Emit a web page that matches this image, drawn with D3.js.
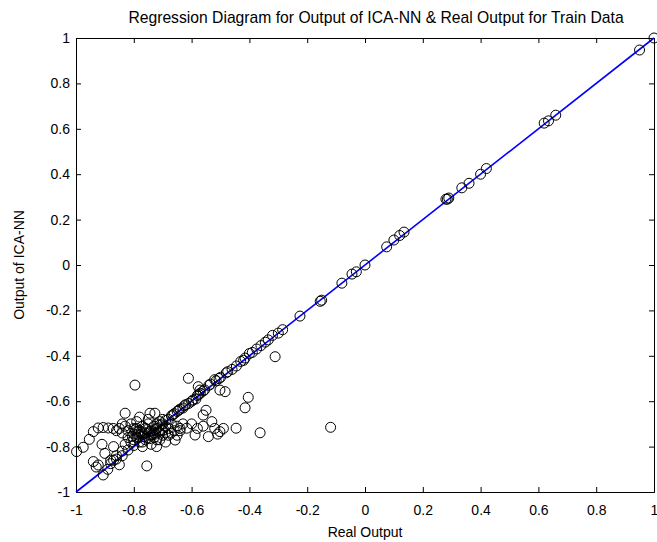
<!DOCTYPE html>
<html>
<head>
<meta charset="utf-8">
<script src="https://cdn.jsdelivr.net/npm/d3@7"></script>
<style>
body { margin: 0; background: #fff; }
text { font-family: "Liberation Sans", Arial, sans-serif; fill: #000; }
.axis path, .axis line { stroke: #000; }
</style>
</head>
<body>
<script>
// Data (Real Output vs Output of ICA-NN)
var realOutput = [
  1.00, 0.95, 0.66, 0.635, 0.62, 0.42, 0.40, 0.36, 0.335, 0.29, 0.285, 0.28,
  0.135, 0.12, 0.10, 0.075, 0.00, -0.03, -0.045, -0.08, -0.15, -0.155, -0.225,
  -0.285, -0.30, -0.32, -0.335, -0.345, -0.36, -0.375, -0.39, -0.40, -0.415,
  -0.42, -0.43, -0.445, -0.46, -0.48, -0.50, -0.515, -0.52, -0.54, -0.56, -0.57,
  -0.58, -0.585, -0.60, -0.61, -0.62, -0.63, -0.64, -0.65, -0.66, -0.67, -0.68,
  -0.69, -0.70, -0.71,
  -0.311, -0.119, -0.404, -0.415, -0.446, -0.363, -0.484, -0.577, -0.571, -0.502,
  -0.611, -0.796, -0.755, -0.998, -0.975, -0.954, -0.94, -0.923, -0.906, -0.888,
  -0.871, -0.83, -0.94, -0.923, -0.906, -0.89, -0.91, -0.90, -0.88, -0.87, -0.86,
  -0.85, -0.84, -0.744, -0.727, -0.657, -0.721, -0.56, -0.55, -0.53, -0.502,
  -0.542, -0.588, -0.617, -0.60, -0.58, -0.56, -0.52, -0.49, -0.51, -0.64, -0.63,
  -0.85, -0.84, -0.83, -0.82, -0.82, -0.81, -0.80, -0.80, -0.79, -0.79, -0.78,
  -0.78, -0.77, -0.77, -0.76, -0.76, -0.75, -0.75, -0.74, -0.74, -0.73, -0.73,
  -0.72, -0.72, -0.71, -0.71, -0.70, -0.70, -0.69, -0.69, -0.68, -0.67, -0.67,
  -0.66, -0.65, -0.65, -0.64, -0.81, -0.83, -0.77, -0.74, -0.75, -0.78, -0.70,
  -0.72, -0.76, -0.79, -0.84, -0.86, -0.80, -0.73, -0.68, -0.71, -0.69,
  -0.88, -0.86, -0.84, -0.82, -0.80, -0.78, -0.93, -0.87,
  -0.775, -0.765, -0.755, -0.745, -0.735, -0.725, -0.785, -0.795, -0.805, -0.715,
  -0.705, -0.765, -0.745, -0.725, -0.785, -0.595, -0.575, -0.555, -0.535, -0.505,
  -0.475, -0.625, -0.645, -0.665
];
var icaOutput = [
  1.00, 0.947, 0.66, 0.635, 0.625, 0.425, 0.40, 0.36, 0.34, 0.295, 0.29, 0.29,
  0.145, 0.13, 0.11, 0.08, 0.00, -0.03, -0.04, -0.08, -0.155, -0.16, -0.225,
  -0.285, -0.30, -0.31, -0.33, -0.34, -0.355, -0.37, -0.385, -0.39, -0.41,
  -0.42, -0.425, -0.445, -0.46, -0.475, -0.495, -0.51, -0.505, -0.53, -0.555, -0.565,
  -0.575, -0.59, -0.60, -0.61, -0.615, -0.63, -0.635, -0.645, -0.655, -0.665, -0.68,
  -0.685, -0.70, -0.705,
  -0.404, -0.715, -0.583, -0.629, -0.719, -0.739, -0.558, -0.536, -0.551, -0.551,
  -0.499, -0.529, -0.885, -0.822, -0.803, -0.768, -0.734, -0.718, -0.716, -0.718,
  -0.72, -0.653, -0.866, -0.881, -0.925, -0.90, -0.79, -0.83, -0.86, -0.80, -0.84,
  -0.88, -0.82, -0.653, -0.653, -0.771, -0.80, -0.661, -0.64, -0.69, -0.734,
  -0.756, -0.749, -0.719, -0.70, -0.72, -0.71, -0.72, -0.72, -0.745, -0.73, -0.70,
  -0.72, -0.74, -0.71, -0.76, -0.73, -0.70, -0.745, -0.77, -0.72, -0.69, -0.75,
  -0.73, -0.71, -0.78, -0.74, -0.72, -0.70, -0.76, -0.73, -0.75, -0.71, -0.74,
  -0.72, -0.77, -0.74, -0.69, -0.73, -0.75, -0.71, -0.74, -0.72, -0.74, -0.70,
  -0.73, -0.71, -0.75, -0.72, -0.78, -0.79, -0.80, -0.79, -0.68, -0.67, -0.68,
  -0.70, -0.77, -0.76, -0.70, -0.73, -0.72, -0.76, -0.75, -0.77, -0.78,
  -0.875, -0.855, -0.84, -0.815, -0.795, -0.78, -0.89, -0.86,
  -0.735, -0.745, -0.725, -0.735, -0.745, -0.725, -0.745, -0.725, -0.755, -0.735,
  -0.725, -0.755, -0.765, -0.745, -0.735, -0.595, -0.57, -0.55, -0.525, -0.50,
  -0.47, -0.62, -0.64, -0.66
];
// regression line end points
var fitX = [-1, 1];
var fitY = [-1, 1];
var ticks = [-1, -0.8, -0.6, -0.4, -0.2, 0, 0.2, 0.4, 0.6, 0.8, 1];

var margin = {top: 38, right: 3, bottom: 50, left: 76},
    width = 657, height = 542,
    w = width - margin.left - margin.right,
    h = height - margin.top - margin.bottom;

var svg = d3.select("body").append("svg")
  .attr("width", width)
  .attr("height", height);

var g = svg.append("g")
  .attr("transform", "translate(" + margin.left + "," + margin.top + ")");

var x = d3.scaleLinear().domain([-1, 1]).range([0, w]);
var y = d3.scaleLinear().domain([-1, 1]).range([h, 0]);

var fmt = function(d) { return d3.format("")(d).replace("−", "-"); };

// axes, ticks pointing inward on all four sides
var xAxis = d3.axisBottom(x).tickValues(ticks).tickSize(-5).tickPadding(13).tickFormat(fmt);
var yAxis = d3.axisLeft(y).tickValues(ticks).tickSize(-5).tickPadding(6).tickFormat(fmt);
var xTop = d3.axisTop(x).tickValues(ticks).tickSize(-5).tickFormat("");
var yRight = d3.axisRight(y).tickValues(ticks).tickSize(-5).tickFormat("");

g.append("g").attr("class", "axis")
  .attr("transform", "translate(0," + h + ")")
  .call(xAxis);
g.append("g").attr("class", "axis").call(yAxis);
g.append("g").attr("class", "axis").call(xTop);
g.append("g").attr("class", "axis")
  .attr("transform", "translate(" + w + ",0)")
  .call(yRight);

g.selectAll(".axis text").style("font-size", "14px");

// regression line
g.append("line")
  .attr("x1", x(fitX[0])).attr("y1", y(fitY[0]))
  .attr("x2", x(fitX[1])).attr("y2", y(fitY[1]))
  .attr("stroke", "#0000ff")
  .attr("stroke-width", 1.6);

// points
g.selectAll(".pt")
  .data(realOutput)
  .enter().append("circle")
  .attr("class", "pt")
  .attr("cx", function(d) { return x(d); })
  .attr("cy", function(d, i) { return y(icaOutput[i]); })
  .attr("r", 5)
  .attr("fill", "none")
  .attr("stroke", "#000")
  .attr("stroke-width", 1);

// labels
svg.append("text")
  .attr("x", 376)
  .attr("y", 23)
  .attr("text-anchor", "middle")
  .style("font-size", "15.7px")
  .text("Regression Diagram for Output of ICA-NN & Real Output for Train Data");

svg.append("text")
  .attr("x", margin.left + w / 2)
  .attr("y", 537)
  .attr("text-anchor", "middle")
  .style("font-size", "14px")
  .text("Real Output");

svg.append("text")
  .attr("transform", "translate(24," + (margin.top + h / 2) + ") rotate(-90)")
  .attr("text-anchor", "middle")
  .style("font-size", "14px")
  .text("Output of ICA-NN");
</script>
</body>
</html>
